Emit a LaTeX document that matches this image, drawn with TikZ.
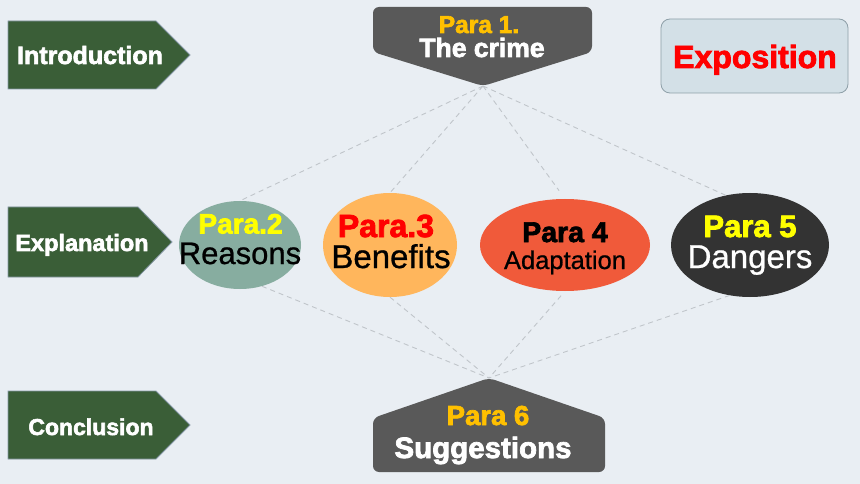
\documentclass[tikz,border=0pt]{standalone}
\usepackage{fontspec}
\setmainfont{Liberation Sans}
\newfontfamily\heavy{Liberation Sans}[FakeBold=2.5]
\newfontfamily\semi{Liberation Sans}[FakeBold=0.8]
\usetikzlibrary{shapes.geometric}
\definecolor{bgc}{HTML}{E9EEF3}
\definecolor{greenc}{HTML}{3A5E37}
\definecolor{greenline}{HTML}{8497A4}
\definecolor{darkc}{HTML}{595959}
\definecolor{goldc}{HTML}{FFC000}
\definecolor{expofill}{HTML}{D3E0E7}
\definecolor{expoline}{HTML}{8E9FA8}
\definecolor{sagec}{HTML}{87ADA0}
\definecolor{orangec}{HTML}{FFB65C}
\definecolor{redorc}{HTML}{F05A3A}
\definecolor{blackc}{HTML}{333333}
\definecolor{dashc}{HTML}{C0C5CA}
\definecolor{yellowc}{HTML}{FFFF00}
\definecolor{redc}{HTML}{FF0000}
\tikzset{
  lbl/.style={inner sep=0pt, anchor=base},
  toprow/.style={text depth=0pt},
  lowrow/.style={text height=0.73em},
  hv/.style={font=\heavy\bfseries\fontsize{#1}{#1}\selectfont},
  rg/.style={font=\semi\fontsize{#1}{#1}\selectfont},
  tagbox/.style={fill=greenc, draw=greenline, line width=0.8pt},
  darkbox/.style={fill=darkc, rounded corners=6pt},
  oval/.style={ellipse, inner sep=0pt, draw=none},
  link/.style={draw=dashc, line width=0.9pt, dash pattern=on 5pt off 4pt}
}
\begin{document}
\begin{tikzpicture}[x=1pt,y=-1pt]
\fill[bgc] (0,0) rectangle (860,484);
\useasboundingbox (0,0) rectangle (860,484);

% section tags
\draw[tagbox] (8,21) -- (156,21) -- (190,55) -- (156,89) -- (8,89) -- cycle;
\node[lbl, hv=25, text=white] (intro) at (90,64) {Introduction};
\draw[tagbox] (8,207) -- (138,207) -- (172,242) -- (138,277) -- (8,277) -- cycle;
\node[lbl, hv=23.5, text=white] (expl) at (82,251) {Explanation};
\draw[tagbox] (8,391) -- (156,391) -- (190,425) -- (156,459) -- (8,459) -- cycle;
\node[lbl, hv=23, text=white] (concl) at (91,435) {Conclusion};

% exposition
\draw[fill=expofill, draw=expoline, line width=0.8pt, rounded corners=9pt] (661,19) rectangle (848,93);
\node[lbl, hv=32, text=redc] (expo) at (755,68) {Exposition};

% para 1
\path[darkbox] (483,86) -- (373,52) -- (373,7) -- (592,7) -- (592,52) -- cycle;
\coordinate (p1tip) at (483,86);
\node[lbl, toprow, hv=24.5, text=goldc] (p1a) at (479,33) {Para 1.};
\node[lbl, lowrow, hv=26.5, text=white] (p1b) at (482,57) {The crime};

% para 6
\path[darkbox] (489,378) -- (605,418) -- (605,472) -- (373,472) -- (373,418) -- cycle;
\coordinate (p6top) at (489,378);
\node[lbl, toprow, hv=27.5, text=goldc] (p6a) at (488,425) {Para 6};
\node[lbl, lowrow, hv=29.5, text=white] (p6b) at (483,458) {Suggestions};

% ellipses
\node[oval, fill=sagec, minimum width=122pt, minimum height=88pt] (e2) at (240,245) {};
\node[oval, fill=orangec, minimum width=134pt, minimum height=104pt] (e3) at (390,245) {};
\node[oval, fill=redorc, minimum width=170pt, minimum height=92pt] (e4) at (565,245) {};
\node[oval, fill=blackc, minimum width=158pt, minimum height=104pt] (e5) at (750,245) {};

\node[lbl, toprow, hv=28, text=yellowc] (t2a) at (240.5,233.5) {Para.2};
\node[lbl, lowrow, rg=31, text=black] (t2b) at (240,264) {Reasons};
\node[lbl, toprow, hv=32, text=redc] (t3a) at (386,237) {Para.3};
\node[lbl, lowrow, rg=33, text=black] (t3b) at (391,268) {Benefits};
\node[lbl, toprow, hv=28.5, text=black] (t4a) at (565,242) {Para 4};
\node[lbl, lowrow, rg=25.5, text=black] (t4b) at (565,269) {Adaptation};
\node[lbl, toprow, hv=31, text=yellowc] (t5a) at (750,237) {Para 5};
\node[lbl, lowrow, rg=33, text=white] (t5b) at (750,268) {Dangers};

% connectors
\draw[link] (p1tip) -- (e2.north);
\draw[link] (p1tip) -- (e3.north);
\draw[link, shorten >=10pt] (p1tip) -- (e4.north);
\draw[link] (p1tip) -- (e5.116);
\draw[link] (e2.-62) -- (p6top);
\draw[link] (e3.south) -- (p6top);
\draw[link, shorten <=6pt] (e4.south) -- (p6top);
\draw[link] (e5.-112) -- (p6top);
\end{tikzpicture}
\end{document}
